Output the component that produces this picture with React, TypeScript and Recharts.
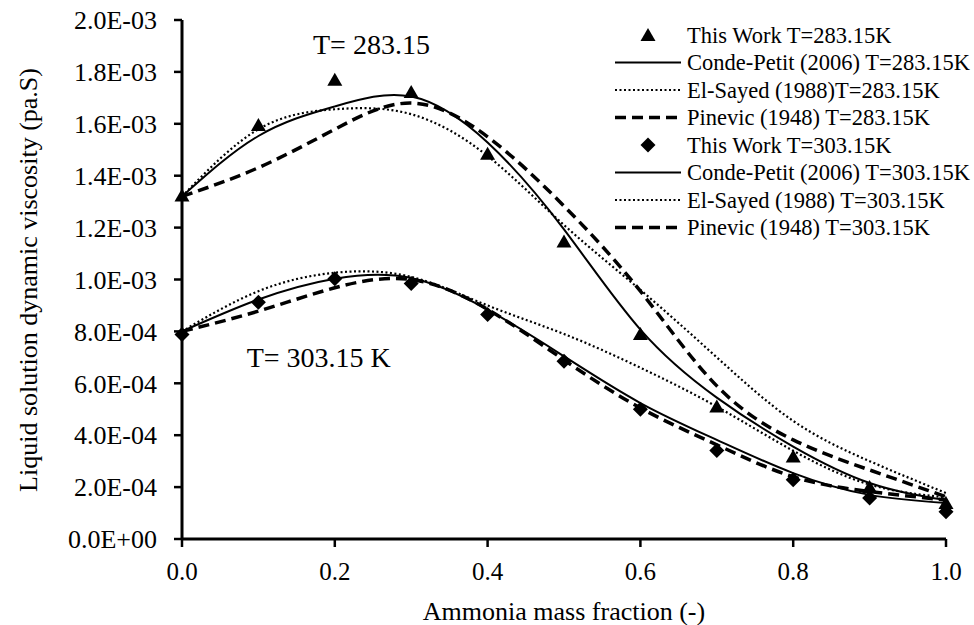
import React from "react";
import {
  ComposedChart,
  Line,
  XAxis,
  YAxis,
  Legend,
  ReferenceDot,
} from "recharts";

// ammonia mass fraction
const massFraction = [0, 0.1, 0.2, 0.3, 0.4, 0.5, 0.6, 0.7, 0.8, 0.9, 1.0];

// viscosity in mPa.s (axis shows Pa.s, so ticks are scaled by 1e-3)
const thisWork283 = [1.324, 1.595, 1.77, 1.723, 1.485, 1.146, 0.79, 0.511, 0.318, 0.2, 0.139];
const condePetit283 = [1.32, 1.553, 1.667, 1.705, 1.528, 1.193, 0.807, 0.545, 0.356, 0.216, 0.15];
const elSayed283 = [1.32, 1.579, 1.656, 1.637, 1.476, 1.21, 0.96, 0.7, 0.455, 0.3, 0.177];
const pinevic283 = [1.32, 1.431, 1.579, 1.68, 1.55, 1.283, 0.955, 0.59, 0.382, 0.266, 0.163];

const thisWork303 = [0.788, 0.912, 1.003, 0.985, 0.865, 0.685, 0.5, 0.341, 0.228, 0.158, 0.105];
const condePetit303 = [0.8, 0.923, 1.003, 1.006, 0.884, 0.704, 0.524, 0.382, 0.254, 0.17, 0.139];
const elSayed303 = [0.8, 0.955, 1.026, 1.01, 0.9, 0.79, 0.66, 0.51, 0.34, 0.21, 0.16];
const pinevic303 = [0.8, 0.878, 0.968, 1.0, 0.885, 0.69, 0.505, 0.363, 0.24, 0.183, 0.15];

const xTicks = [0, 0.2, 0.4, 0.6, 0.8, 1.0];
const yTicks = [0, 0.2, 0.4, 0.6, 0.8, 1.0, 1.2, 1.4, 1.6, 1.8, 2.0];

const legendLabels = [
  "This Work T=283.15K",
  "Conde-Petit (2006) T=283.15K",
  "El-Sayed (1988)T=283.15K",
  "Pinevic (1948) T=283.15K",
  "This Work T=303.15K",
  "Conde-Petit (2006) T=303.15K",
  "El-Sayed (1988) T=303.15K",
  "Pinevic (1948) T=303.15K",
];
const legendKinds = ["triangle", "solid", "dotted", "dashed", "diamond", "solid", "dotted", "dashed"];

const data = massFraction.map((x, i) => ({
  x,
  tw283: thisWork283[i],
  cp283: condePetit283[i],
  es283: elSayed283[i],
  pv283: pinevic283[i],
  tw303: thisWork303[i],
  cp303: condePetit303[i],
  es303: elSayed303[i],
  pv303: pinevic303[i],
}));

const FONT = "'Liberation Serif', 'Times New Roman', serif";
const DOTTED = "2 2.5";
const DASHED = "11 6";

// 0.0E+00 style labels
const sci = (mPa: number) => {
  const v = mPa * 1e-3;
  if (Math.abs(v) < 1e-12) return "0.0E+00";
  const e = Math.floor(Math.log10(v) + 1e-9);
  const m = v / Math.pow(10, e);
  const sign = e < 0 ? "-" : "+";
  return `${m.toFixed(1)}E${sign}${String(Math.abs(e)).padStart(2, "0")}`;
};

const trianglePath = (cx: number, cy: number) =>
  `M${cx},${cy - 7} L${cx + 7.5},${cy + 6} L${cx - 7.5},${cy + 6} Z`;
const diamondPath = (cx: number, cy: number) =>
  `M${cx},${cy - 7.5} L${cx + 7.5},${cy} L${cx},${cy + 7.5} L${cx - 7.5},${cy} Z`;

const TriangleDot = (props: any) => {
  const { cx, cy, index } = props;
  if (cx == null || cy == null) return <g key={`t-${index}`} />;
  return <path key={`t-${index}`} d={trianglePath(cx, cy)} fill="#000" />;
};

const DiamondDot = (props: any) => {
  const { cx, cy, index } = props;
  if (cx == null || cy == null) return <g key={`d-${index}`} />;
  return <path key={`d-${index}`} d={diamondPath(cx, cy)} fill="#000" />;
};

const LegendBox = () => {
  const rowTop = 35;
  const rowGap = 27.5;
  return (
    <svg width={374} height={250}>
      {legendLabels.map((label, i) => {
        const y = rowTop + i * rowGap;
        const kind = legendKinds[i];
        let symbol: React.ReactNode = null;
        if (kind === "triangle") symbol = <path d={trianglePath(48, y)} fill="#000" />;
        else if (kind === "diamond") symbol = <path d={diamondPath(48, y)} fill="#000" />;
        else
          symbol = (
            <line
              x1={15}
              x2={81}
              y1={y}
              y2={y}
              stroke="#000"
              strokeWidth={kind === "dashed" ? 3.5 : kind === "dotted" ? 2.2 : 2}
              strokeDasharray={kind === "dashed" ? DASHED : kind === "dotted" ? DOTTED : undefined}
            />
          );
        return (
          <g key={label}>
            {symbol}
            <text x={87} y={y + 7.5} fontSize={22.5} fontFamily={FONT} fill="#000">
              {label}
            </text>
          </g>
        );
      })}
    </svg>
  );
};

const YTitle = () => (
  <text
    x={28}
    y={280}
    transform="rotate(-90 28 280)"
    textAnchor="middle"
    dominantBaseline="central"
    fontSize={26}
    fontFamily={FONT}
    fill="#000"
  >
    Liquid solution dynamic viscosity (pa.S)
  </text>
);

const XTitle = () => (
  <text
    x={564}
    y={611}
    textAnchor="middle"
    dominantBaseline="central"
    fontSize={26}
    fontFamily={FONT}
    fill="#000"
  >
    Ammonia mass fraction (-)
  </text>
);

export default function App() {
  return (
    <div style={{ position: "absolute", left: 0, top: 0, background: "#fff" }}>
      <ComposedChart
        width={974}
        height={625}
        data={data}
        margin={{ top: 20, right: 28, bottom: 0, left: 0 }}
      >
        <XAxis
          type="number"
          dataKey="x"
          domain={[0, 1]}
          ticks={xTicks}
          tickFormatter={(v: number) => v.toFixed(1)}
          height={86}
          tickSize={8}
          tickMargin={15}
          axisLine={{ stroke: "#000", strokeWidth: 3 }}
          tickLine={{ stroke: "#000", strokeWidth: 2.5 }}
          tick={{ fontSize: 25, fontFamily: FONT, fill: "#000" }}
          label={<XTitle />}
        />
        <YAxis
          type="number"
          domain={[0, 2]}
          ticks={yTicks}
          tickFormatter={sci}
          width={182}
          tickSize={8}
          tickMargin={17}
          axisLine={{ stroke: "#000", strokeWidth: 3 }}
          tickLine={{ stroke: "#000", strokeWidth: 2.5 }}
          tick={{ fontSize: 26, fontFamily: FONT, fill: "#000" }}
          label={<YTitle />}
        />
        <Legend
          layout="horizontal"
          verticalAlign="middle"
          align="center"
          content={<LegendBox />}
          wrapperStyle={{ position: "absolute", left: 600, top: 0, width: 374, height: 250 }}
        />

        <Line dataKey="cp283" type="natural" stroke="#000" strokeWidth={2} dot={false} activeDot={false} isAnimationActive={false} />
        <Line dataKey="es283" type="natural" stroke="#000" strokeWidth={2.2} strokeDasharray={DOTTED} dot={false} activeDot={false} isAnimationActive={false} />
        <Line dataKey="pv283" type="natural" stroke="#000" strokeWidth={3.5} strokeDasharray={DASHED} dot={false} activeDot={false} isAnimationActive={false} />
        <Line dataKey="cp303" type="natural" stroke="#000" strokeWidth={2} dot={false} activeDot={false} isAnimationActive={false} />
        <Line dataKey="es303" type="natural" stroke="#000" strokeWidth={2.2} strokeDasharray={DOTTED} dot={false} activeDot={false} isAnimationActive={false} />
        <Line dataKey="pv303" type="natural" stroke="#000" strokeWidth={3.5} strokeDasharray={DASHED} dot={false} activeDot={false} isAnimationActive={false} />

        <Line dataKey="tw283" stroke="none" dot={TriangleDot} activeDot={false} isAnimationActive={false} />
        <Line dataKey="tw303" stroke="none" dot={DiamondDot} activeDot={false} isAnimationActive={false} />

        <ReferenceDot
          x={0.248}
          y={1.907}
          r={1}
          fill="none"
          stroke="none"
          label={{ value: "T= 283.15", position: "center", fontSize: 28, fontFamily: FONT, fill: "#000" }}
        />
        <ReferenceDot
          x={0.179}
          y={0.701}
          r={1}
          fill="none"
          stroke="none"
          label={{ value: "T= 303.15 K", position: "center", fontSize: 28, fontFamily: FONT, fill: "#000" }}
        />
      </ComposedChart>
    </div>
  );
}
